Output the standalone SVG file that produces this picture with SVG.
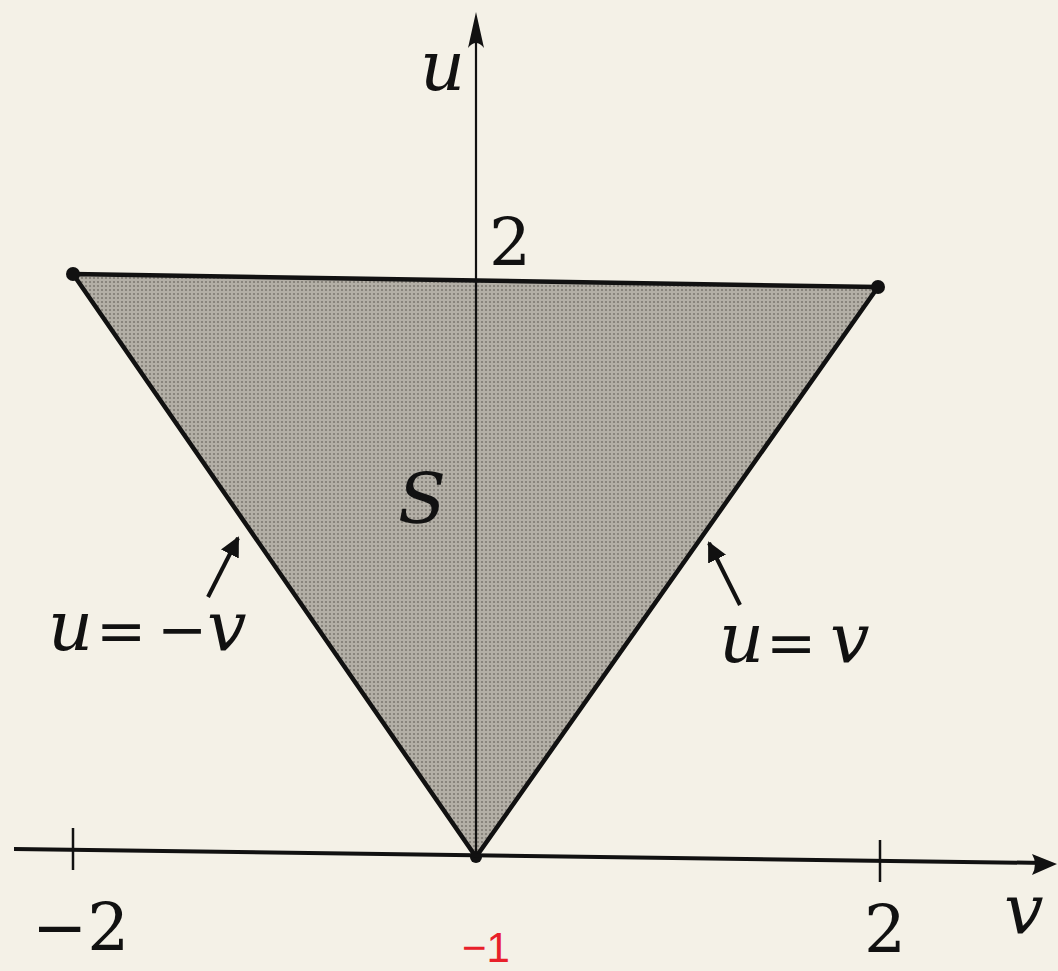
<svg xmlns="http://www.w3.org/2000/svg" width="1058" height="971" viewBox="0 0 1058 971">
<defs>
<style>
text{font-family:"DejaVu Serif","Liberation Serif",serif}
.lbl{font-style:italic;font-size:70px;fill:#111}
.op{font-size:60px;fill:#111}
.num{font-size:66px;fill:#111}
.axis{stroke:#111;fill:none}
.edge{stroke:#111;stroke-width:4.5;fill:none;stroke-linejoin:round}
.ptr{stroke:#111;stroke-width:4;fill:none}
.red{font-family:"Liberation Sans",sans-serif;font-size:42px;fill:#e8202a}
</style>
<pattern id="dots" width="4" height="4" patternUnits="userSpaceOnUse">
<rect width="4" height="4" fill="#b3afa6"/>
<circle cx="2" cy="2" r="1.1" fill="#7f7b73"/>
</pattern>
<marker id="ah" viewBox="0 0 10 10" refX="9" refY="5" markerWidth="5" markerHeight="5" orient="auto" markerUnits="strokeWidth">
<path d="M0,0 L10,5 L0,10 Z" fill="#111"/>
</marker>
</defs>
<rect width="1058" height="971" fill="#f4f1e7"/>
<g id="region-S">
<polygon points="73,274 878,287 476,857" fill="url(#dots)"/>
<polygon points="73,274 878,287 476,857" class="edge"/>
<circle cx="73" cy="274" r="7" fill="#111"/>
<circle cx="878" cy="287" r="7" fill="#111"/>
<circle cx="476" cy="857" r="6" fill="#111"/>
<text class="lbl" x="398" y="523" font-size="80">S</text>
</g>
<g id="axes">
<line class="axis" x1="476" y1="858" x2="476" y2="20" stroke-width="2.2"/>
<path d="M476,12 L468,48 Q476,38 484,48 Z" fill="#111"/>
<line class="axis" x1="14" y1="849" x2="1045" y2="863" stroke-width="4"/>
<path d="M1057,864 L1032,854 Q1038,864 1032,875 Z" fill="#111"/>
<line class="axis" x1="73" y1="828" x2="73" y2="870" stroke-width="2.5"/>
<line class="axis" x1="880" y1="840" x2="880" y2="882" stroke-width="2.5"/>
<text class="lbl" x="420" y="90">u</text>
<text class="lbl" x="1004" y="933">v</text>
<text class="num" x="489" y="265">2</text>
<text class="num" x="32" y="950">−2</text>
<text class="num" x="864" y="952">2</text>
</g>
<g id="connectors">
<line class="ptr" x1="208" y1="597" x2="238" y2="538" marker-end="url(#ah)"/>
<line class="ptr" x1="740" y1="605" x2="709" y2="543" marker-end="url(#ah)"/>
</g>
<g id="label-left">
<text class="lbl" x="48" y="650">u</text>
<text class="op" x="96" y="651">=</text>
<text class="op" x="157" y="650" font-size="42">−</text>
<text class="lbl" x="207" y="650">v</text>
</g>
<g id="label-right">
<text class="lbl" x="719" y="662">u</text>
<text class="op" x="766" y="663">=</text>
<text class="lbl" x="830" y="662">v</text>
</g>
<g id="annotation">
<text class="red" x="462" y="962">−1</text>
</g>
</svg>
